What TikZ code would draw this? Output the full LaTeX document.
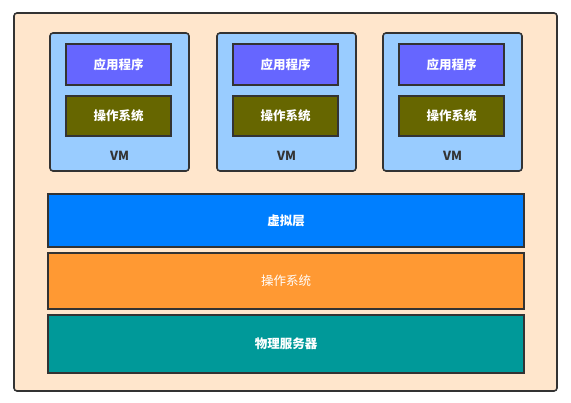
\documentclass[tikz,border=0pt]{standalone}
\usepackage{fontspec}
\newfontfamily\cjk{Noto Sans CJK SC}
\definecolor{bgpeach}{HTML}{FFE6CC}
\definecolor{vmblue}{HTML}{99CCFF}
\definecolor{appblue}{HTML}{6666FF}
\definecolor{osolive}{HTML}{666600}
\definecolor{hypblue}{HTML}{007FFF}
\definecolor{osorange}{HTML}{FF9933}
\definecolor{hwteal}{HTML}{009999}
\definecolor{edge}{HTML}{333333}
\tikzset{
  box/.style={draw=edge, line width=1.6pt, inner sep=0pt,
    font=\cjk\bfseries\fontsize{12.5}{14}\selectfont, text=white},
  vmbox/.style={draw=edge, line width=1.6pt, rounded corners=3pt, fill=vmblue,
    minimum width=139pt, minimum height=138pt},
}
\begin{document}
\begin{tikzpicture}[x=1pt,y=-1pt]
\useasboundingbox (0,0) rectangle (571,403);
% Host frame
\draw[edge, line width=1.6pt, rounded corners=3pt, fill=bgpeach] (14,13) rectangle (557,391);
% Three guests
\foreach \i/\dx in {1/0,2/167,3/333}{
  \node[vmbox] (vm\i) at (119.5+\dx,102) {};
  \node[box, fill=appblue, minimum width=105pt, minimum height=41pt] (app\i) at (118.5+\dx,64.5) {应用程序};
  \node[box, fill=osolive, minimum width=105pt, minimum height=40pt] (gos\i) at (118.5+\dx,116) {操作系统};
  \node[font=\cjk\bfseries\fontsize{12.5}{14}\selectfont, text=edge] (vml\i) at (119.5+\dx,156) {VM};
}
% Layers
\node[box, fill=hypblue, minimum width=476pt, minimum height=53pt] (hyp) at (286,220.5) {虚拟层};
\node[box, fill=osorange, minimum width=476pt, minimum height=56pt] (hos) at (286,281) {\mdseries 操作系统};
\node[box, fill=hwteal, minimum width=476pt, minimum height=58pt] (hw) at (286,344) {物理服务器};
\end{tikzpicture}
\end{document}
